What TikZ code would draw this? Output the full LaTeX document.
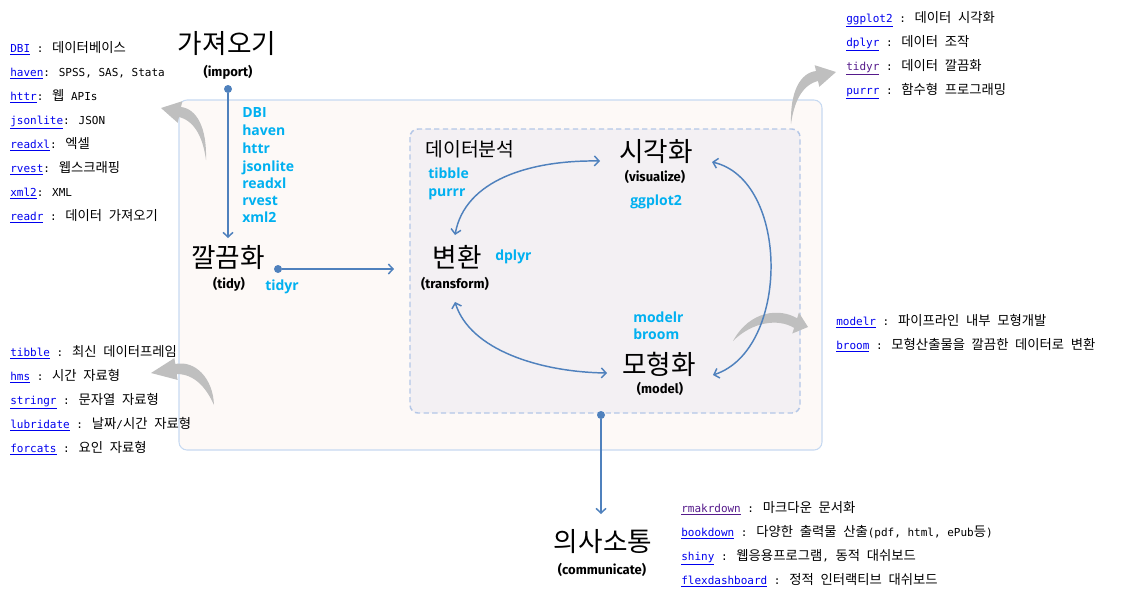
\documentclass[tikz,border=0pt]{standalone}
\usepackage{fontspec}
\usetikzlibrary{arrows.meta}
\newfontfamily\krfont{Noto Sans CJK KR}
\newfontfamily\monofont{DejaVu Sans Mono}
\newfontfamily\pkgfont{Open Sans}
\newfontfamily\handfont{Fira Sans}
\definecolor{flow}{HTML}{4F81BD}
\definecolor{pkg}{HTML}{00B0F0}
\definecolor{lnkblue}{HTML}{0000EE}
\definecolor{lnkpurple}{HTML}{551A8B}
\definecolor{outerfill}{HTML}{FDF9F7}
\definecolor{outerline}{HTML}{C6D9F1}
\definecolor{innerfill}{HTML}{F3F0F3}
\definecolor{innerline}{HTML}{B4C7E7}
\definecolor{grayarr}{HTML}{BFBFBF}
\newcommand\lnk[1]{\textcolor{lnkblue}{\underline{#1}}}
\newcommand\vlnk[1]{\textcolor{lnkpurple}{\underline{#1}}}
\newcommand\kr[1]{{\krfont\fontsize{10}{11}\selectfont\spaceskip=5pt\relax #1}}
\tikzset{
  titletext/.style={font=\krfont\fontsize{20}{22}\selectfont, inner sep=0pt},
  subtext/.style={font=\handfont\bfseries\fontsize{9.8}{11}\selectfont, inner sep=0pt},
  pkglabel/.style={font=\pkgfont\bfseries\fontsize{10.5}{12}\selectfont, text=pkg, anchor=base west, inner sep=0pt},
  libline/.style={font=\monofont\fontsize{8.25}{10}\selectfont, anchor=base west, inner sep=0pt},
  flowline/.style={draw=flow, line width=1.1pt},
  tipend/.style={-{Straight Barb[length=3.5pt,width=7.5pt]}},
  tipboth/.style={{Straight Barb[length=3.5pt,width=7.5pt]}-{Straight Barb[length=3.5pt,width=7.5pt]}},
  flowdot/.style={circle, fill=flow, inner sep=0pt, minimum size=6pt},
  grayshape/.style={fill=grayarr, draw=none},
}
\begin{document}
\begin{tikzpicture}[x=0.75pt, y=-0.75pt]
\useasboundingbox (0,0) rectangle (1122,597);

% boxes
\path[draw=outerline, fill=outerfill, line width=0.8pt, rounded corners=6pt] (179,100) rectangle (822,450);
\path[draw=innerline, fill=innerfill, line width=1.1pt, dash pattern=on 4pt off 2.5pt, rounded corners=6pt] (410,129) rectangle (800,413);

% gray curved arrows
\fill[grayshape] (161,108) -- (182.3,101.2) -- (181,107) .. controls (197,109) and (207,128) .. (206,160) .. controls (203,138) and (195,121) .. (179,117) -- (177.7,122.8) -- cycle;
\fill[grayshape] (836,72) -- (814.7,65.2) -- (816,71) .. controls (800,73) and (790,92) .. (791,124) .. controls (794,102) and (802,85) .. (818,81) -- (819.3,86.8) -- cycle;
\fill[grayshape] (151,373) -- (174.4,358.1) -- (175.3,364) .. controls (195,360) and (213,378) .. (214,405) .. controls (206,387) and (194,374) .. (176.7,374) -- (177.6,379.9) -- cycle;
\fill[grayshape] (808,327) -- (792.3,333.5) -- (794.1,327.9) .. controls (778,318) and (752,322) .. (733,341) .. controls (750,310) and (780,308) .. (797.1,318.3) -- (798.9,312.7) -- cycle;

% titles
\node[titletext] (imp) at (227,44) {가져오기};
\node[subtext] (impS) at (228,72) {(import)};
\node[titletext] (tidy) at (228,258) {깔끔화};
\node[subtext] (tidyS) at (229,284) {(tidy)};
\node[font=\krfont\fontsize{14.5}{16}\selectfont, inner sep=0pt] (ana) at (470,149) {데이터분석};
\node[titletext] (vis) at (656,152) {시각화};
\node[subtext] (visS) at (655,177) {(visualize)};
\node[titletext] (trans) at (457,257) {변환};
\node[subtext] (transS) at (455,284) {(transform)};
\node[titletext] (mod) at (659,364) {모형화};
\node[subtext] (modS) at (660,389) {(model)};
\node[titletext] (com) at (603,542) {의사소통};
\node[subtext] (comS) at (602,570) {(communicate)};

% package labels (baselines)
\node[pkglabel] (pDBI) at (242,117.5) {DBI};
\node[pkglabel] (pHaven) at (242,135.5) {haven};
\node[pkglabel] (pHttr) at (242,153.5) {httr};
\node[pkglabel] (pJson) at (242,171.5) {jsonlite};
\node[pkglabel] (pReadxl) at (242,188.5) {readxl};
\node[pkglabel] (pRvest) at (242,205.5) {rvest};
\node[pkglabel] (pXml) at (242,222.5) {xml2};
\node[pkglabel] (pTidyr) at (265,290.5) {tidyr};
\node[pkglabel] (pTibble) at (428,178.5) {tibble};
\node[pkglabel] (pPurrr) at (428,196.5) {purrr};
\node[pkglabel] (pGg) at (630,205.5) {ggplot2};
\node[pkglabel] (pDplyr) at (495,260.5) {dplyr};
\node[pkglabel] (pModelr) at (633,322.5) {modelr};
\node[pkglabel] (pBroom) at (633,339.5) {broom};

% dots and straight connectors
\node[flowdot] (dImp) at (228,89) {};
\node[flowdot] (dTidy) at (278,269) {};
\node[flowdot] (dCom) at (601,415) {};
\coordinate (impEnd) at (228,238);
\coordinate (tidyEnd) at (394,269);
\coordinate (comEnd) at (601,514);
\draw[flowline, tipend] (dImp) -- (impEnd);
\draw[flowline, tipend] (dTidy) -- (tidyEnd);
\draw[flowline, tipend] (dCom) -- (comEnd);

% cycle connectors
\coordinate (visL) at (600,161);
\coordinate (visR) at (712,162);
\coordinate (transT) at (455,235);
\coordinate (transB) at (455,302);
\coordinate (modL) at (607,373);
\coordinate (modR) at (713,375);
\draw[flowline, tipboth] (transT) .. controls (465,180) and (530,160) .. (visL);
\draw[flowline, tipboth] (transB) .. controls (470,350) and (540,372) .. (modL);
\draw[flowline, tipboth] (visR) .. controls (790,180) and (790,350) .. (modR);

% top-left list (baselines)
\node[libline] (a1) at (10,52) {\lnk{DBI} : \kr{데이터베이스}};
\node[libline] (a2) at (10,76) {\lnk{haven}: SPSS, SAS, Stata};
\node[libline] (a3) at (10,100) {\lnk{httr}: \kr{웹} APIs};
\node[libline] (a4) at (10,124) {\lnk{jsonlite}: JSON};
\node[libline] (a5) at (10,148) {\lnk{readxl}: \kr{엑셀}};
\node[libline] (a6) at (10,172) {\lnk{rvest}: \kr{웹스크래핑}};
\node[libline] (a7) at (10,196) {\lnk{xml2}: XML};
\node[libline] (a8) at (10,220) {\lnk{readr} : \kr{데이터 가져오기}};

% top-right list
\node[libline] (b1) at (846,22) {\lnk{ggplot2} : \kr{데이터 시각화}};
\node[libline] (b2) at (846,46) {\lnk{dplyr} : \kr{데이터 조작}};
\node[libline] (b3) at (846,70) {\vlnk{tidyr} : \kr{데이터 깔끔화}};
\node[libline] (b4) at (846,94) {\lnk{purrr} : \kr{함수형 프로그래밍}};

% right list
\node[libline] (c1) at (836,325) {\lnk{modelr} : \kr{파이프라인 내부 모형개발}};
\node[libline] (c2) at (836,349) {\lnk{broom} : \kr{모형산출물을 깔끔한 데이터로 변환}};

% bottom-left list
\node[libline] (d1) at (10,356) {\lnk{tibble} : \kr{최신 데이터프레임}};
\node[libline] (d2) at (10,380) {\lnk{hms} : \kr{시간 자료형}};
\node[libline] (d3) at (10,404) {\lnk{stringr} : \kr{문자열 자료형}};
\node[libline] (d4) at (10,428) {\lnk{lubridate} : \kr{날짜}/\kr{시간 자료형}};
\node[libline] (d5) at (10,452) {\lnk{forcats} : \kr{요인 자료형}};

% bottom-right list
\node[libline] (e1) at (681,512) {\vlnk{rmakrdown} : \kr{마크다운 문서화}};
\node[libline] (e2) at (681,536) {\lnk{bookdown} : \kr{다양한 출력물 산출}(pdf, html, ePub\kr{등})};
\node[libline] (e3) at (681,560) {\lnk{shiny} : \kr{웹응용프로그램}, \kr{동적 대쉬보드}};
\node[libline] (e4) at (681,584) {\lnk{flexdashboard} : \kr{정적 인터랙티브 대쉬보드}};
\end{tikzpicture}
\end{document}
